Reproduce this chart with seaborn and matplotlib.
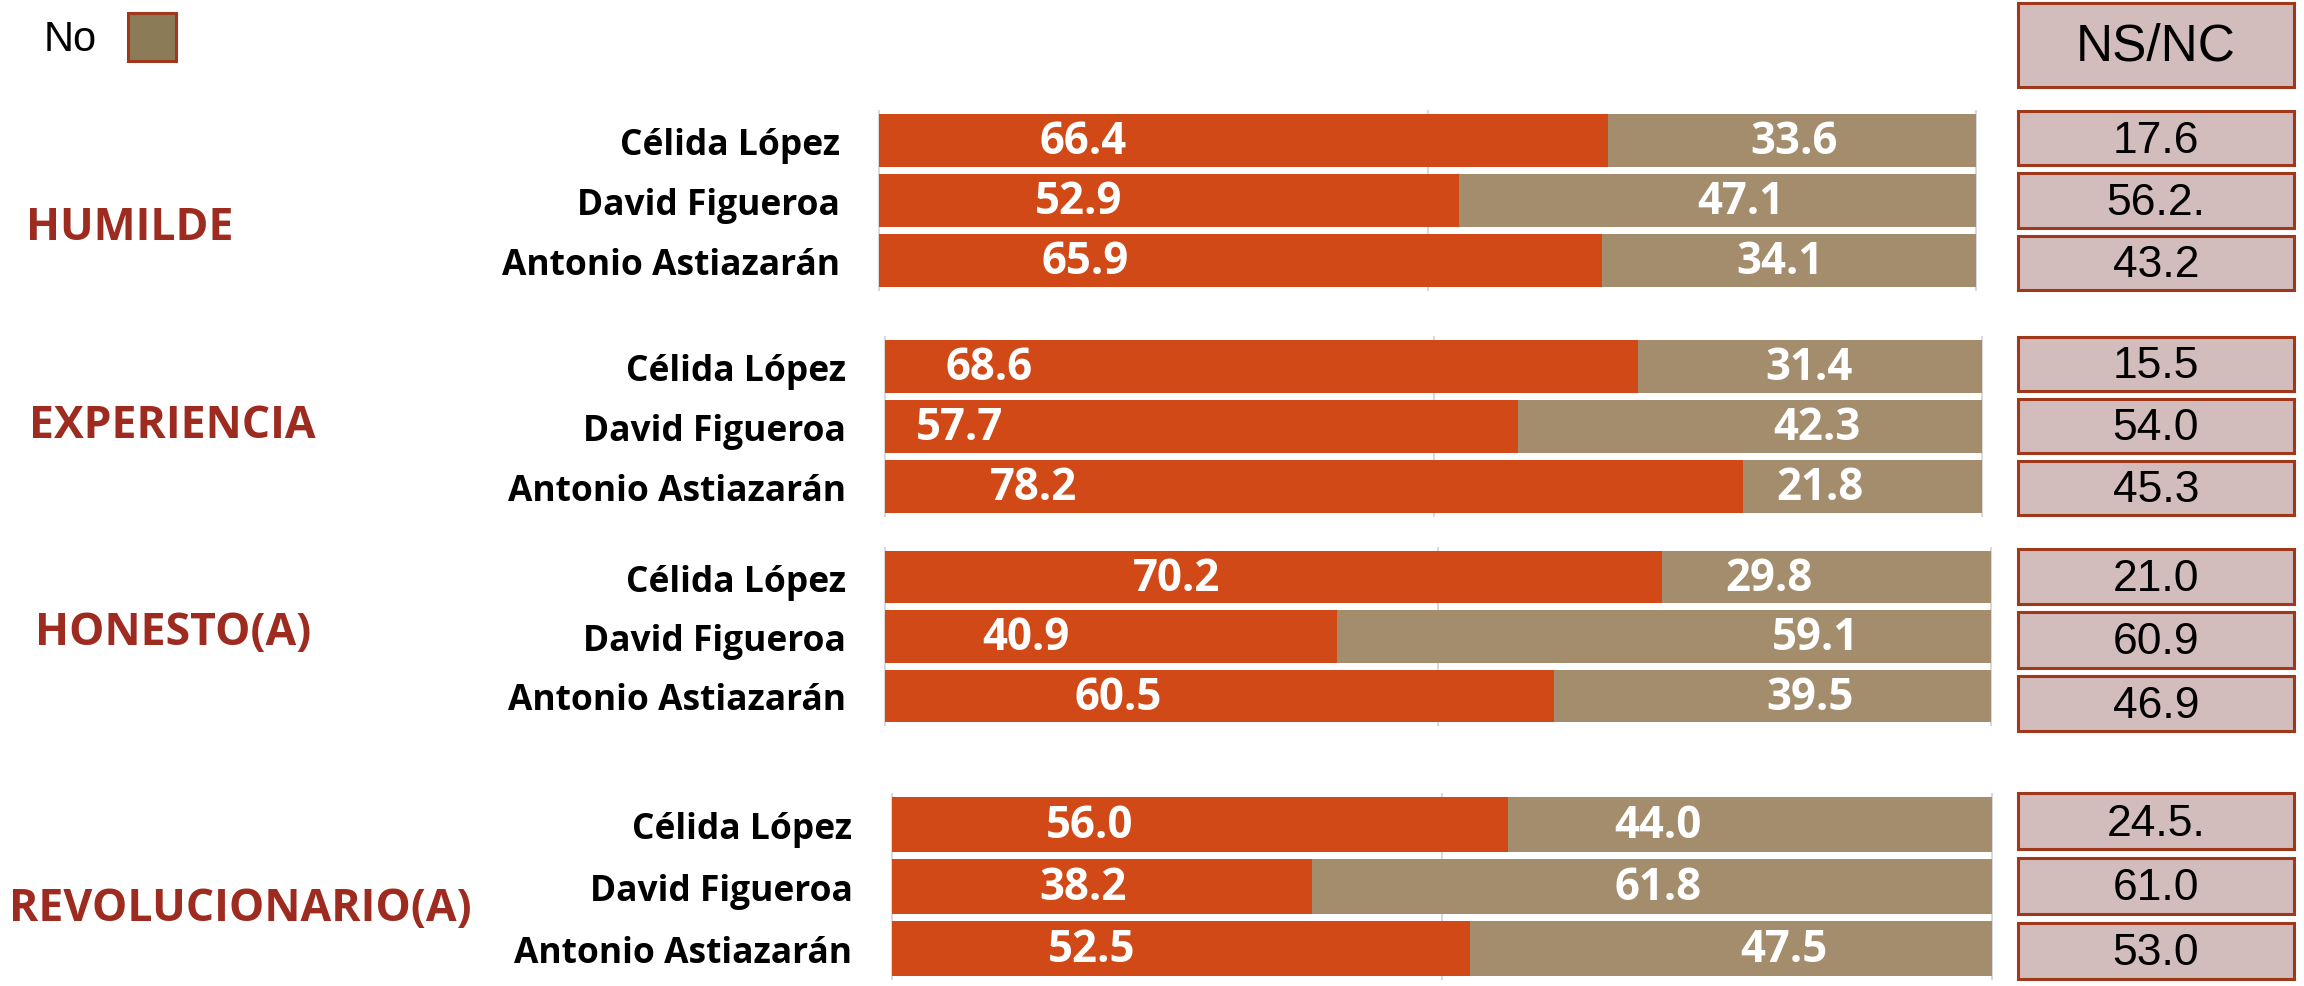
import numpy as np
import pandas as pd
import matplotlib.pyplot as plt
from matplotlib.patches import Rectangle
import seaborn as sns

sns.set_theme(style="white")
plt.rcParams['font.family'] = ['Open Sans', 'DejaVu Sans']

# Datos del gráfico

grupos = ["HUMILDE", "EXPERIENCIA", "HONESTO(A)", "REVOLUCIONARIO(A)"]
candidatos = ["Célida López", "David Figueroa", "Antonio Astiazarán"]

si_humilde = [66.4, 52.9, 65.9]
no_humilde = [33.6, 47.1, 34.1]
si_experiencia = [68.6, 57.7, 78.2]
no_experiencia = [31.4, 42.3, 21.8]
si_honesto = [70.2, 40.9, 60.5]
no_honesto = [29.8, 59.1, 39.5]
si_revolucionario = [56.0, 38.2, 52.5]
no_revolucionario = [44.0, 61.8, 47.5]

nsnc_humilde = ["17.6", "56.2.", "43.2"]
nsnc_experiencia = ["15.5", "54.0", "45.3"]
nsnc_honesto = ["21.0", "60.9", "46.9"]
nsnc_revolucionario = ["24.5.", "61.0", "53.0"]

si = [si_humilde, si_experiencia, si_honesto, si_revolucionario]
no = [no_humilde, no_experiencia, no_honesto, no_revolucionario]
nsnc = [nsnc_humilde, nsnc_experiencia, nsnc_honesto, nsnc_revolucionario]

# Diseño (pixeles de la figura de 2304x987)

W, H = 2304, 987
naranja = "#D14917"
cafe = "#A38D6C"
rojo_titulo = "#9E2B20"
borde = "#A0381C"
rosa = "#D2BCBC"

cajas_barras = [(877, 115, 1978, 288), (883, 341, 1984, 514),
                (883, 552, 1993, 723), (890, 798, 1994, 977)]
cajas_nsnc = [(112, 291), (338, 516), (550, 732), (794, 980)]
x_nsnc = (2018, 2294)
pos_grupos = [(26, 229), (29, 427), (35, 634), (9, 909)]
pos_si = [[18.6, 18.2, 18.8], [9.5, 6.8, 13.6], [26.4, 12.8, 21.1], [18.0, 17.4, 18.2]]
pos_no = [[83.4, 78.5, 82.1], [84.2, 84.9, 85.2], [79.9, 84.1, 83.6], [69.6, 69.6, 81.1]]


def rect(x0, y0, x1, y1):
    return [x0 / W, 1 - y1 / H, (x1 - x0) / W, (y1 - y0) / H]


fig = plt.figure(figsize=(23.04, 9.87), dpi=100)
alto = 0.88

for i in range(4):
    x0, y0, x1, y1 = cajas_barras[i]
    s = (y1 - y0) / (2 + alto)
    pad = (1 - alto) / 2 * s
    ax = fig.add_axes(rect(x0, y0 - pad, x1, y1 + pad))

    df = pd.DataFrame({"candidato": candidatos, "si": si[i], "no": no[i]})
    df["total"] = df["si"] + df["no"]

    sns.barplot(data=df, y="candidato", x="total", color=cafe, saturation=1,
                width=alto, orient="h", ax=ax, linewidth=0)
    sns.barplot(data=df, y="candidato", x="si", color=naranja, saturation=1,
                width=alto, orient="h", ax=ax, linewidth=0)

    ax.set_xlim(-0.15, 100.15)
    ax.set_ylim(2.5, -0.5)
    ax.set_xticks([0, 50, 100])
    ax.set_xticklabels([])
    ax.grid(axis="x", color="#D9D9D9", linewidth=1.5)
    ax.set_axisbelow(True)
    ax.set_xlabel("")
    ax.set_ylabel("")
    ax.tick_params(axis="y", length=0, pad=27)
    for lab in ax.get_yticklabels():
        lab.set_fontsize(25.5)
        lab.set_fontweight("bold")
        lab.set_color("black")
    for sp in ax.spines.values():
        sp.set_visible(False)

    for j in range(3):
        ax.text(pos_si[i][j], j + 0.02, f"{si[i][j]:.1f}", color="white",
                fontsize=31.5, fontweight="bold", ha="center", va="center")
        ax.text(pos_no[i][j], j + 0.02, f"{no[i][j]:.1f}", color="white",
                fontsize=31.5, fontweight="bold", ha="center", va="center")

    # Cajas NS/NC
    t, b = cajas_nsnc[i]
    axn = fig.add_axes(rect(x_nsnc[0], t, x_nsnc[1], b))
    alto_n = 0.87
    axn.barh(range(3), [1, 1, 1], height=alto_n, color=rosa, edgecolor=borde,
             linewidth=2.2, clip_on=False)
    axn.set_xlim(0, 1)
    axn.set_ylim(2 + alto_n / 2, -alto_n / 2)
    for j in range(3):
        axn.text(0.5, j + 0.03, nsnc[i][j], ha="center", va="center",
                 fontsize=32, family="Liberation Sans", color="black")
    axn.axis("off")

    gx, gy = pos_grupos[i]
    fig.text(gx / W, 1 - gy / H, grupos[i], color=rojo_titulo, fontsize=32,
             fontweight="bold", ha="left", va="center")

# Encabezado NS/NC
fig.add_artist(Rectangle((x_nsnc[0] / W, 1 - 88 / H), (x_nsnc[1] - x_nsnc[0]) / W,
                         84 / H, transform=fig.transFigure, facecolor=rosa,
                         edgecolor=borde, linewidth=2.2))
fig.text((x_nsnc[0] + x_nsnc[1]) / 2 / W, 1 - 47 / H, "NS/NC", ha="center",
         va="center", fontsize=37, family="Liberation Sans", color="black")

# Leyenda "No"
fig.text(44 / W, 1 - 40 / H, "No", ha="left", va="center", fontsize=30,
         family="Liberation Sans", color="black")
fig.add_artist(Rectangle((128 / W, 1 - 62 / H), 48 / W, 48 / H,
                         transform=fig.transFigure, facecolor="#8B7B56",
                         edgecolor=borde, linewidth=2.2))

fig.savefig("out.png", dpi=100)
